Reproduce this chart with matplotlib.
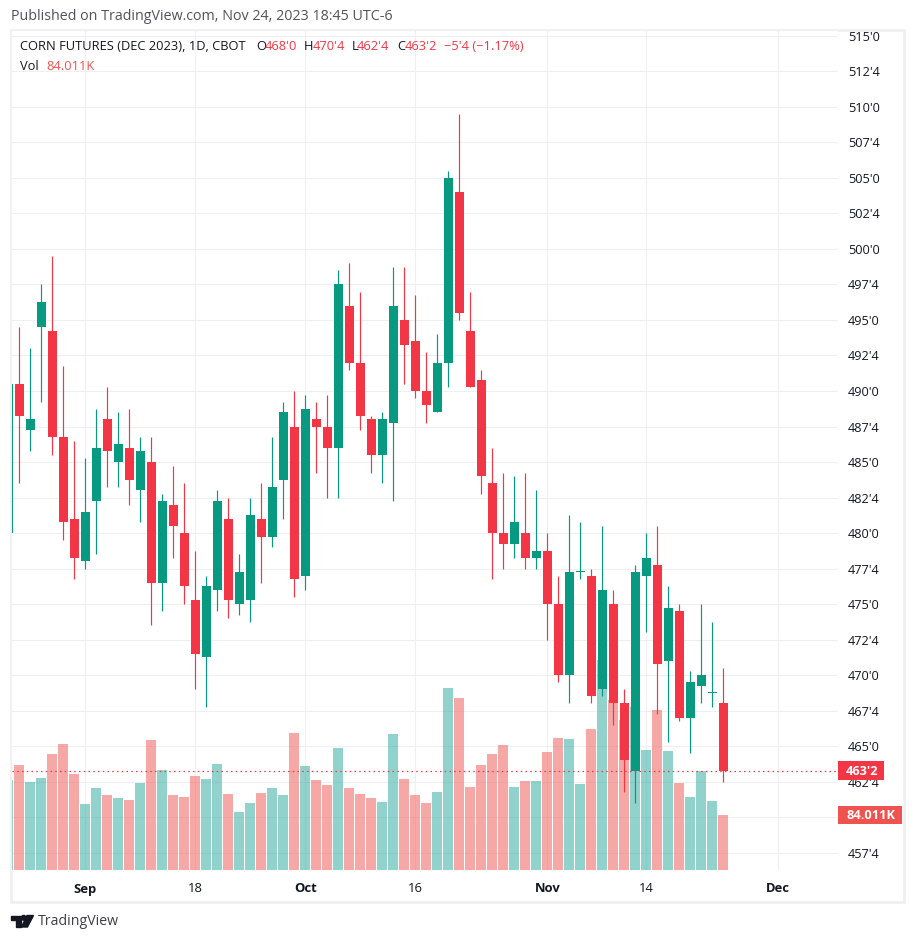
import numpy as np
import matplotlib
matplotlib.use('Agg')  # no display in the sandbox
import matplotlib.pyplot as plt
from matplotlib.patches import Rectangle, Polygon, Circle
from matplotlib.transforms import blended_transform_factory

# Daily candles, first one is cut off by the left edge of the pane
OPEN = [480.0, 490.5, 487.25, 494.5, 494.25, 486.75, 481.0, 478.0, 482.25, 488.0, 485.0,
        486.0, 483.0, 485.0, 476.5, 482.0, 480.0, 475.25, 471.25, 476.0, 481.0, 475.0,
        475.25, 481.0, 479.75, 483.75, 487.5, 477.0, 488.0, 487.5, 486.0, 496.0, 492.0,
        488.0, 485.5, 487.75, 495.0, 493.5, 490.0, 488.5, 492.0, 504.0, 494.25, 490.75,
        483.5, 480.0, 479.25, 480.0, 478.25, 478.75, 475.0, 470.0, 477.25, 477.0, 469.0,
        475.0, 468.0, 463.25, 477.0, 477.75, 471.0, 474.5, 467.0, 469.25, 468.75, 468.0]
HIGH = [490.5, 494.5, 493.0, 497.5, 499.5, 491.75, 486.5, 485.25, 488.75, 490.25, 488.5,
        488.75, 486.75, 486.75, 482.75, 484.75, 483.5, 478.75, 477.0, 483.0, 482.5, 478.5,
        482.5, 483.5, 486.75, 489.25, 490.0, 489.75, 489.25, 489.75, 498.5, 499.0, 497.0,
        488.25, 488.5, 498.75, 498.75, 496.75, 492.75, 494.0, 505.5, 509.5, 497.0, 491.5,
        486.0, 484.25, 484.0, 484.25, 483.0, 480.0, 477.0, 481.25, 480.75, 477.5, 480.5,
        476.0, 469.0, 477.75, 480.0, 480.5, 476.25, 475.0, 470.25, 475.0, 473.75, 470.5]
LOW = [480.0, 483.5, 485.75, 489.25, 485.5, 479.5, 476.75, 477.5, 478.5, 483.25, 483.25,
       482.0, 480.75, 473.5, 474.5, 478.25, 475.0, 469.0, 467.75, 474.5, 474.0, 474.25,
       473.75, 476.5, 479.0, 481.0, 475.5, 476.0, 484.25, 482.5, 482.5, 491.5, 487.25,
       484.25, 483.5, 482.25, 490.5, 489.5, 487.75, 488.5, 490.25, 495.0, 490.25, 482.75,
       476.75, 477.5, 478.25, 477.5, 477.5, 472.5, 469.5, 468.0, 476.75, 468.0, 468.5,
       466.5, 461.75, 461.0, 473.0, 467.25, 465.25, 466.75, 464.5, 468.0, 467.75, 462.5]
CLOSE = [490.5, 488.25, 488.0, 496.25, 486.75, 480.75, 478.25, 481.5, 486.0, 485.75, 486.25,
         483.75, 485.75, 476.5, 482.25, 480.5, 476.25, 471.5, 476.25, 482.25, 475.25, 477.25,
         481.25, 479.75, 483.25, 488.5, 476.75, 488.75, 487.5, 486.0, 497.5, 492.0, 488.25,
         485.5, 488.0, 496.0, 493.25, 490.0, 489.0, 492.0, 505.0, 495.5, 490.25, 484.0,
         480.0, 479.25, 480.75, 478.25, 478.75, 475.0, 470.0, 477.25, 477.25, 468.5, 476.0,
         468.0, 464.0, 477.25, 478.25, 470.75, 474.75, 467.0, 469.5, 470.0, 468.75, 463.25]
# Volume in thousands
VOLUME = [137.5, 160.4, 134.4, 140.5, 177.2, 192.5, 146.6, 100.8, 125.3, 114.6, 110.0,
          106.9, 132.9, 198.6, 152.8, 114.6, 111.5, 143.6, 139.0, 161.9, 116.1, 88.6,
          102.3, 117.6, 125.3, 114.6, 209.3, 158.9, 137.5, 129.8, 186.4, 125.3, 116.1,
          110.0, 103.9, 207.7, 139.0, 114.6, 102.3, 119.1, 278.0, 262.7, 126.8, 160.4,
          177.2, 190.9, 126.8, 135.9, 135.9, 180.2, 201.6, 200.1, 131.4, 215.4, 320.8,
          259.7, 229.1, 249.0, 183.3, 244.4, 181.8, 132.9, 111.5, 151.2, 105.4, 84.011]

DATE_TICKS = [7, 17, 27, 37, 49, 58, 70]
DATE_LABELS = ["Sep", "18", "Oct", "16", "Nov", "14", "Dec"]
BOLD_LABELS = ["Sep", "Oct", "Nov", "Dec"]
PRICE_TICKS = [457.5 + 2.5 * k for k in range(24)]

W, H = 916, 941
GREEN = '#089981'
RED = '#F23645'
TEXT = '#131722'
GRID = '#EFEFF3'
FONT = 'Open Sans'

plt.rcParams['font.family'] = FONT


def fx(x):
    return x / W


def fy(y):
    return 1 - y / H


def price_label(p):
    # 460'0 is hidden behind the volume tag on the scale
    if p == 460.0:
        return ""
    whole = int(p)
    return f"{whole}'{int(round((p - whole) * 8))}"


fig = plt.figure(figsize=(W / 100, H / 100), dpi=100, facecolor='white')
rect = [fx(12), fy(870), fx(838) - fx(12), fy(31) - fy(870)]

# volume pane sits under the candles and carries the grid
ax_vol = fig.add_axes(rect, zorder=1)
ax = fig.add_axes(rect, zorder=2)
ax.patch.set_visible(False)

x = np.arange(len(CLOSE))
opens = np.array(OPEN)
closes = np.array(CLOSE)
up = closes >= opens

for a in (ax, ax_vol):
    a.set_xlim(0.336, 75.43)
    for s in a.spines.values():
        s.set_visible(False)

ax_vol.set_ylim(0, 1281.6)
ax_vol.set_yticks([])
ax_vol.set_xticks([])
for t in DATE_TICKS:
    ax_vol.axvline(t, color=GRID, lw=0.8, zorder=0)
ax.set_ylim(456.27, 515.35)
for p in PRICE_TICKS:
    ax_vol.axhline((p - 456.27) / (515.35 - 456.27) * 1281.6, color=GRID, lw=0.8, zorder=0)

vol_colors = ['#26A69A' if u else '#EF5350' for u in up]
ax_vol.bar(x, VOLUME, width=10 / 11, color=vol_colors, alpha=0.5, linewidth=0, zorder=2)

# candles
colors = [GREEN if u else RED for u in up]
ax.vlines(x, LOW, HIGH, colors=colors, lw=0.85, zorder=3)
bottoms = np.minimum(opens, closes)
heights = np.maximum(np.abs(closes - opens), 0.07)
ax.bar(x, heights, bottom=bottoms, width=9 / 11, color=colors, linewidth=0, zorder=4)

# last price line
ax.axhline(CLOSE[-1], color=RED, lw=0.9, linestyle=(0, (1.2, 2.6)), zorder=5)

# price scale
ax.yaxis.tick_right()
ax.set_yticks(PRICE_TICKS)
ax.set_yticklabels([price_label(p) for p in PRICE_TICKS], fontsize=9.2, color=TEXT)
ax.tick_params(axis='y', length=0, pad=7)

# date scale
ax.set_xticks(DATE_TICKS)
ax.set_xticklabels(DATE_LABELS, fontsize=9.4, color=TEXT)
ax.tick_params(axis='x', length=0, pad=9)
for lab in ax.get_xticklabels():
    if lab.get_text() in BOLD_LABELS:
        lab.set_fontweight('bold')

# tags on the price scale
tag = ax.get_yaxis_transform()
ax.add_patch(Rectangle((1.0, CLOSE[-1] - 0.67), 46 / 826, 1.34, transform=tag,
                       facecolor=RED, clip_on=False, zorder=6, linewidth=0))
ax.text(1.0 + 24.5 / 826, CLOSE[-1] - 0.02, price_label(CLOSE[-1]), transform=tag, color='white',
        fontsize=9.2, fontweight='bold', ha='center', va='center', clip_on=False, zorder=7)
tag_vol = blended_transform_factory(ax.transAxes, ax_vol.transData)
ax.add_patch(Rectangle((1.0, VOLUME[-1] - 14.5), 64 / 826, 29, transform=tag_vol,
                       facecolor='#EF5350', clip_on=False, zorder=6, linewidth=0))
ax.text(1.0 + 33 / 826, VOLUME[-1], "84.011K", transform=tag_vol, color='white',
        fontsize=9.2, fontweight='bold', ha='center', va='center', clip_on=False, zorder=7)

# frame around the chart
fig.add_artist(Rectangle((fx(11), fy(901.5)), fx(904) - fx(11), fy(30) - fy(901.5), fill=False,
                         edgecolor=GRID, linewidth=1.8, transform=fig.transFigure))

# header and legend
fig.text(fx(11), fy(17), "Published on TradingView.com, Nov 24, 2023 18:45 UTC-6",
         fontsize=10.3, color='#50535E', va='center')
legend = [(20, "CORN FUTURES (DEC 2023), 1D, CBOT", TEXT), (256, "O", TEXT), (265, "468'0", RED),
          (304, "H", TEXT), (313, "470'4", RED), (352, "L", TEXT), (357, "462'4", RED),
          (397, "C", TEXT), (405, "463'2", RED), (444, "\u22125'4 (\u22121.17%)", RED)]
for px, s, c in legend:
    fig.text(fx(px), fy(47), s, fontsize=9.25, color=c, va='center')
fig.text(fx(20), fy(66), "Vol", fontsize=9.25, color=TEXT, va='center')
fig.text(fx(46.7), fy(66), "84.011K", fontsize=9.25, color='#EF5350', va='center')

# TradingView logo
logo = '#131722'
fig.add_artist(Polygon([(fx(11), fy(915.5)), (fx(21), fy(915.5)), (fx(21), fy(927)), (fx(16), fy(927)),
                        (fx(16), fy(920)), (fx(11), fy(920))], closed=True, color=logo,
                       transform=fig.transFigure))
fig.add_artist(Polygon([(fx(27), fy(915.5)), (fx(33.5), fy(915.5)), (fx(27.5), fy(927)), (fx(21.5), fy(927))],
                       closed=True, color=logo, transform=fig.transFigure))
fig.add_artist(Circle((fx(23.7), fy(917.8)), 2.3 / W, color=logo, transform=fig.transFigure))
fig.text(fx(38), fy(921.5), "TradingView", fontsize=10.2, color='#3C3F4A', va='center')

fig.savefig('out.png', dpi=100)
